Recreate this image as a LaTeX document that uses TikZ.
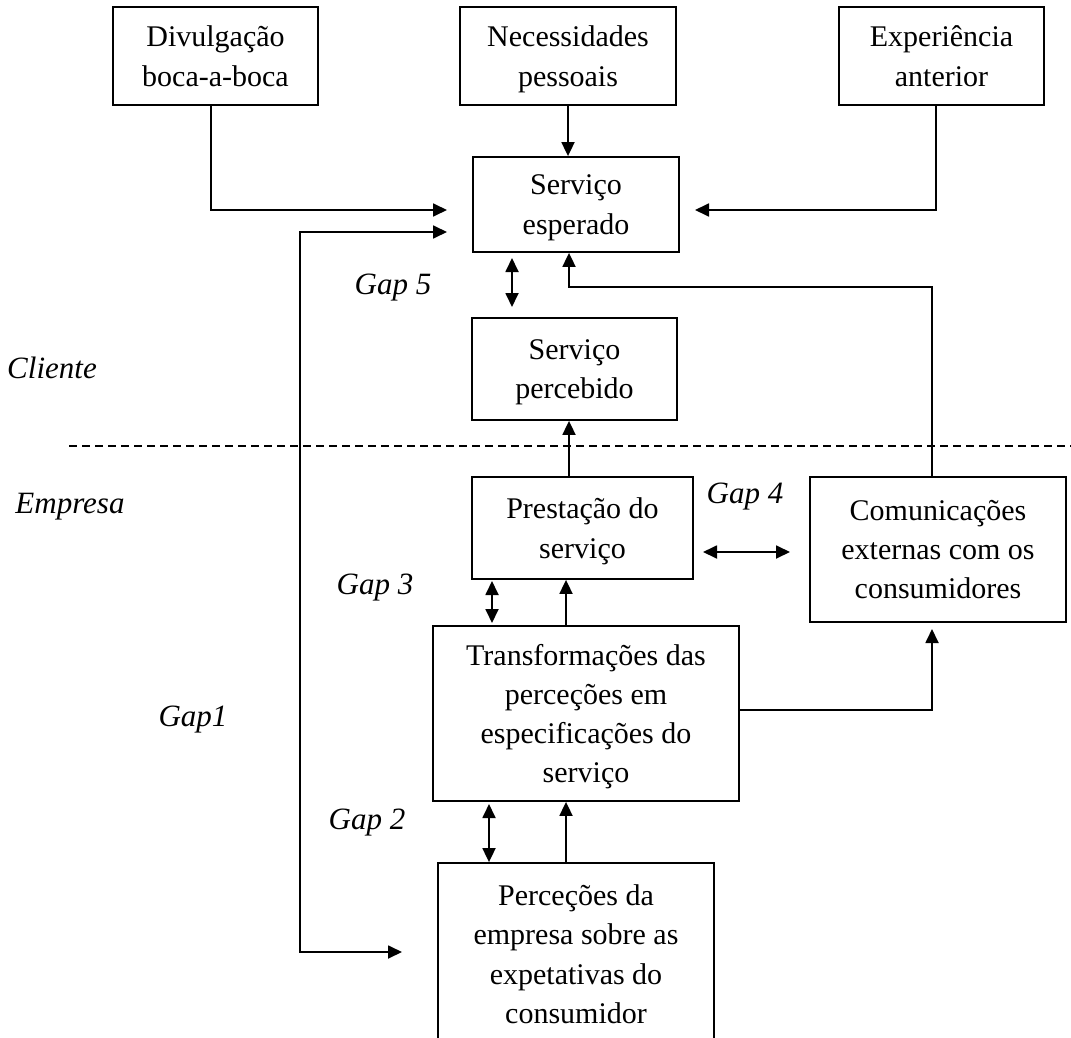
\documentclass[tikz,border=0pt]{standalone}
\usepackage{fontspec}
\setmainfont{Liberation Serif}
\usetikzlibrary{arrows.meta}

\begin{document}
\begin{tikzpicture}[x=0.5pt,y=-0.5pt,line width=0.9pt,
    box/.style={draw,inner sep=0pt,align=center,font=\fontsize{15}{19.6}\selectfont,text depth=-1.5pt},
    gap/.style={font=\fontsize{15.5}{17}\selectfont\itshape},
    >={Triangle[length=7pt,width=6.5pt]}]
			\useasboundingbox (0,0) rectangle (1071,1038);
			\clip (0,0) rectangle (1071,1038);
			% cliente
			\node[box,minimum width=102.5pt,minimum height=49pt] (div) at (215.5,56) {Divulgação\\boca-a-boca};
			\node[box,minimum width=108pt,minimum height=49pt] (nec) at (568,56) {Necessidades\\pessoais};
			\node[box,minimum width=102.5pt,minimum height=49pt] (exp) at (941.5,56) {Experiência\\anterior};
			\node[box,minimum width=103pt,minimum height=47.5pt] (esp) at (576,204.5) {Serviço\\esperado};
			\node[box,minimum width=102.5pt,minimum height=51pt] (perc) at (574.5,369) {Serviço\\percebido};
			% empresa
			\node[box,minimum width=110.5pt,minimum height=51pt] (prest) at (582.5,528) {Prestação do\\serviço};
			\node[box,minimum width=128pt,minimum height=72.5pt] (com) at (938,549.5) {Comunicações\\externas com os\\consumidores};
			\node[box,minimum width=153pt,minimum height=87.5pt] (trans) at (586,713.5) {Transformações das\\perceções em\\especificações do\\serviço};
			\node[box,minimum width=138pt,minimum height=91pt,text depth=-0.5pt] (pemp) at (576,954) {Perceções da\\empresa sobre as\\expetativas do\\consumidor};
			% separador
			\draw[line width=0.7pt,dash pattern=on 4pt off 2.5pt] (69,446)--(1071,446);
			\node[gap] (cli) at (52,368) {Cliente};
			\node[gap] (emp) at (70,507) {Empresa};
			% gaps
			\node[gap] (g1) at (193,720) {Gap1};
			\node[gap] (g2) at (367,823) {Gap 2};
			\node[gap] (g3) at (375,588) {Gap 3};
			\node[gap] (g4) at (745,497) {Gap 4};
			\node[gap] (g5) at (393,288) {Gap 5};
			% ligacoes
			\coordinate (inDiv) at (447,210);
			\coordinate (inExp) at (695,210);
			\coordinate (inGap) at (447,232);
			\coordinate (outGap) at (402,952);
			\draw[->] (211,0 |- div.south)|-(inDiv);
			\draw[->] (nec.south)--(nec.south |- esp.north);
			\draw[->] (936,0 |- exp.south)|-(inExp);
			\draw[<->] (inGap)--++(-147,0)|-(outGap);
			\draw[<->] (512,258)--(512,307);
			\draw[->] (932,0 |- com.north)|-(569,287)--(569,0 |- esp.south);
			\draw[->] (569,0 |- prest.north)--(569,0 |- perc.south);
			\draw[<->] (703,552)--(790,552);
			\draw[<->] (492,581)--(492,623);
			\draw[->] (566,0 |- trans.north)--(566,0 |- prest.south);
			\draw[->] (trans.east |- 0,710)-|(932,629);
			\draw[<->] (489,804)--(489,0 |- pemp.north);
			\draw[->] (566,0 |- pemp.north)--(566,0 |- trans.south);
		\end{tikzpicture}
\end{document}
